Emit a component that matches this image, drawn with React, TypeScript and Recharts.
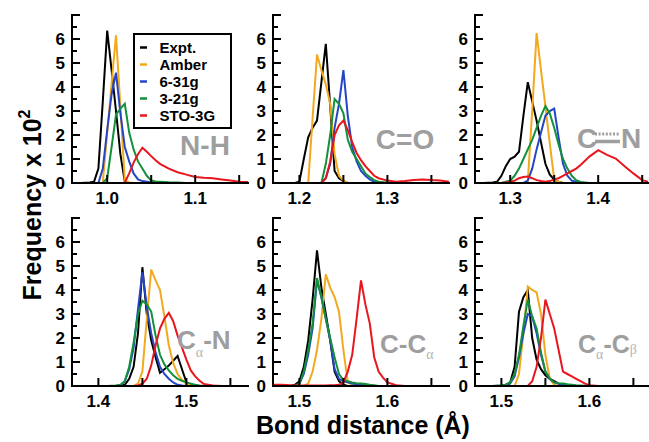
import React from 'react';
import { LineChart, Line, XAxis, YAxis } from 'recharts';

// ---------- data (frequency x 10^2 vs bond distance, Å) ----------
const seriesNames = ['Expt.', 'Amber', '6-31g', '3-21g', 'STO-3G'];
const seriesKeys = ['expt', 'amber', 'b631', 'b321', 'sto'];
const seriesColors = ['#000000', '#f2a91e', '#2545c8', '#13903a', '#e8161d'];
const yTicks = [0, 0.5, 1, 1.5, 2, 2.5, 3, 3.5, 4, 4.5, 5, 5.5, 6, 6.5, 7];

// N-H
const nhX = [0.96, 0.97, 0.98, 0.985, 0.99, 0.995, 1.0, 1.005, 1.01, 1.015, 1.02, 1.025, 1.03, 1.035, 1.04, 1.045, 1.05, 1.055, 1.06, 1.07, 1.08, 1.09, 1.1, 1.11, 1.12, 1.13, 1.14, 1.15, 1.16];
const nhExpt = [0, 0, 0.02, 0.05, 0.6, 3.4, 6.35, 4.7, 3.0, 1.2, 0.05, 0, 0, 0, 0, 0, 0, 0, 0, 0, 0, 0, 0, 0, 0, 0, 0, 0, 0];
const nhAmber = [null, null, null, null, null, 0.05, 2.1, 4.15, 6.15, 3.2, 0.1, 0.02, 0, null, null, null, null, null, null, null, null, null, null, null, null, null, null, null, null];
const nhB631 = [null, null, null, null, 0, 0.6, 2.2, 3.7, 4.6, 2.9, 1.5, 0.9, 0.4, 0.15, 0.08, 0.05, 0.02, 0, null, null, null, null, null, null, null, null, null, null, null];
const nhB321 = [null, null, null, null, null, 0, 0.2, 1.5, 2.85, 3.1, 3.3, 2.1, 1.4, 0.9, 0.6, 0.3, 0.1, 0.06, 0.05, 0.03, 0.02, 0, null, null, null, null, null, null, null];
const nhSto = [null, null, null, null, null, null, null, null, null, null, 0.02, 0.4, 0.85, 1.2, 1.47, 1.3, 1.12, 0.95, 0.8, 0.6, 0.45, 0.35, 0.25, 0.22, 0.2, 0.15, 0.1, 0.05, 0.04];
const nhTicks = [1.0, 1.05, 1.1, 1.15];

// C=O
const coX = [1.17, 1.18, 1.19, 1.195, 1.2, 1.205, 1.21, 1.215, 1.22, 1.225, 1.23, 1.235, 1.24, 1.245, 1.25, 1.255, 1.26, 1.265, 1.27, 1.275, 1.28, 1.285, 1.29, 1.3, 1.31, 1.32, 1.33, 1.34, 1.35, 1.36, 1.37];
const coExpt = [0, 0, 0, 0, 0.05, 1.0, 1.9, 2.3, 2.6, 4.2, 5.8, 3.2, 0.5, 0.2, 0.08, 0, null, null, null, null, null, null, null, null, null, null, null, null, null, null, null];
const coAmber = [null, null, null, null, null, null, 0, 2.7, 5.35, 4.7, 4.1, 3.3, 1.2, 0.3, 0.1, 0, null, null, null, null, null, null, null, null, null, null, null, null, null, null, null];
const coB631 = [null, null, null, null, null, null, null, null, null, 0, 0.2, 0.8, 2.3, 3.3, 4.7, 2.8, 1.5, 0.9, 0.5, 0.3, 0.15, 0.05, 0, null, null, null, null, null, null, null, null];
const coB321 = [null, null, null, null, null, null, null, null, null, 0, 0.8, 2.0, 3.5, 3.3, 2.9, 1.8, 1.3, 1.0, 0.7, 0.4, 0.25, 0.12, 0.05, 0.02, 0, null, null, null, null, null, null];
const coSto = [null, null, null, null, null, null, null, null, null, 0, 0.2, 0.9, 2.0, 2.4, 2.6, 2.2, 1.7, 1.25, 0.95, 0.7, 0.5, 0.3, 0.2, 0.1, 0.05, 0.08, 0.12, 0.15, 0.12, 0.1, 0.05];
const coTicks = [1.2, 1.25, 1.3, 1.35];

// C...N
const cnX = [1.26, 1.27, 1.28, 1.285, 1.29, 1.295, 1.3, 1.305, 1.31, 1.315, 1.32, 1.325, 1.33, 1.335, 1.34, 1.345, 1.35, 1.355, 1.36, 1.365, 1.37, 1.375, 1.38, 1.39, 1.4, 1.41, 1.42, 1.43, 1.44, 1.45, 1.46];
const cnExpt = [0, 0, 0.02, 0.05, 0.3, 0.7, 1.0, 1.1, 1.3, 2.8, 4.2, 3.4, 2.6, 1.7, 0.8, 0.35, 0.15, 0.05, 0, null, null, null, null, null, null, null, null, null, null, null, null];
const cnAmber = [null, null, null, null, null, null, null, null, null, null, 0.05, 3.0, 6.25, 4.7, 3.2, 1.65, 0.15, 0.05, 0, null, null, null, null, null, null, null, null, null, null, null, null];
const cnB631 = [null, null, null, null, null, null, null, null, null, 0, 0.1, 0.6, 1.4, 2.1, 2.8, 3.0, 3.1, 1.9, 0.8, 0.3, 0.1, 0.05, 0, null, null, null, null, null, null, null, null];
const cnB321 = [null, null, null, null, 0, 0.05, 0.1, 0.3, 0.6, 1.0, 1.4, 1.8, 2.3, 2.8, 3.2, 2.9, 2.3, 1.6, 1.0, 0.6, 0.3, 0.12, 0.04, 0, null, null, null, null, null, null, null];
const cnSto = [null, null, null, null, 0, 0.02, 0.05, 0.1, 0.2, 0.25, 0.27, 0.2, 0.12, 0.08, 0.05, 0.08, 0.15, 0.2, 0.3, 0.4, 0.5, 0.6, 0.75, 1.1, 1.37, 1.17, 1.02, 0.7, 0.4, 0.12, 0.02];
const cnTicks = [1.3, 1.35, 1.4, 1.45];

// Calpha-N
const canX = [1.37, 1.38, 1.39, 1.4, 1.41, 1.42, 1.425, 1.43, 1.435, 1.44, 1.445, 1.45, 1.455, 1.46, 1.465, 1.47, 1.475, 1.48, 1.485, 1.49, 1.495, 1.5, 1.505, 1.51, 1.515, 1.52, 1.53, 1.54, 1.55, 1.56, 1.57];
const canExpt = [0, 0, 0, 0, 0, 0, 0.02, 0.05, 0.3, 0.8, 2.2, 4.95, 3.0, 1.9, 1.2, 0.55, 0.7, 0.85, 1.05, 1.25, 0.7, 0.15, 0.05, 0, null, null, null, null, null, null, null];
const canAmber = [null, null, null, null, null, null, null, null, null, 0, 0.1, 0.6, 2.8, 4.85, 4.4, 4.0, 2.9, 1.7, 0.95, 0.5, 0.25, 0.1, 0.03, 0, null, null, null, null, null, null, null];
const canB631 = [null, null, null, null, null, 0, 0.02, 0.2, 0.7, 1.6, 3.2, 4.75, 3.3, 2.2, 1.4, 0.8, 0.5, 0.3, 0.15, 0.05, 0.02, 0, null, null, null, null, null, null, null, null, null];
const canB321 = [null, null, null, null, 0, 0.02, 0.05, 0.2, 0.8, 1.8, 3.0, 3.55, 3.4, 3.1, 2.1, 1.3, 0.9, 0.65, 0.45, 0.3, 0.22, 0.15, 0.1, 0.05, 0.02, 0, null, null, null, null, null];
const canSto = [null, null, null, null, null, null, null, null, null, 0, 0.02, 0.1, 0.3, 0.85, 1.7, 2.4, 2.8, 3.05, 2.7, 2.1, 1.6, 1.1, 0.65, 0.4, 0.22, 0.08, 0.02, 0, null, null, null];
const canTicks = [1.4, 1.45, 1.5, 1.55];

// C-Calpha
const ccaX = [1.47, 1.48, 1.49, 1.495, 1.5, 1.505, 1.51, 1.515, 1.52, 1.525, 1.53, 1.535, 1.54, 1.545, 1.55, 1.555, 1.56, 1.565, 1.57, 1.575, 1.58, 1.585, 1.59, 1.595, 1.6, 1.61, 1.62, 1.63, 1.64, 1.65, 1.66, 1.67];
const ccaExpt = [0, 0, 0, 0.05, 0.2, 0.8, 1.9, 3.6, 5.65, 4.1, 3.0, 1.9, 0.6, 0.2, 0.05, 0, null, null, null, null, null, null, null, null, null, null, null, null, null, null, null, null];
const ccaAmber = [null, null, null, null, null, 0, 0.1, 0.6, 1.5, 2.8, 4.65, 4.1, 3.7, 3.1, 1.5, 0.15, 0.05, 0, null, null, null, null, null, null, null, null, null, null, null, null, null, null];
const ccaB631 = [null, null, null, 0, 0.1, 0.5, 1.3, 2.4, 4.4, 3.7, 2.8, 1.9, 0.7, 0.3, 0.2, 0.15, 0.1, 0.07, 0.05, 0.03, 0, null, null, null, null, null, null, null, null, null, null, null];
const ccaB321 = [null, null, null, 0, 0.1, 0.6, 1.5, 2.6, 4.5, 3.7, 2.8, 2.0, 1.2, 0.5, 0.25, 0.2, 0.15, 0.12, 0.1, 0.08, 0.05, 0.03, 0, null, null, null, null, null, null, null, null, null];
const ccaSto = [0.05, 0.05, 0.03, 0.02, 0.02, 0.02, 0.02, 0.02, 0.02, 0.02, 0.02, 0.03, 0.03, 0.05, 0.15, 0.6, 1.3, 2.8, 4.4, 3.4, 2.6, 1.2, 0.6, 0.35, 0.15, 0.03, 0, null, null, null, null, null];
const ccaTicks = [1.5, 1.55, 1.6, 1.65];

// Calpha-Cbeta
const cabX = [1.47, 1.48, 1.49, 1.495, 1.5, 1.505, 1.51, 1.515, 1.52, 1.525, 1.53, 1.535, 1.54, 1.545, 1.55, 1.555, 1.56, 1.565, 1.57, 1.575, 1.58, 1.585, 1.59, 1.595, 1.6, 1.61, 1.62, 1.63, 1.64, 1.65, 1.66, 1.67];
const cabExpt = [0, 0, 0, 0, 0, 0.05, 0.15, 0.8, 3.1, 3.7, 4.0, 2.0, 1.1, 0.7, 0.45, 0.3, 0.2, 0.1, 0.05, 0.02, 0, null, null, null, null, null, null, null, null, null, null, null];
const cabAmber = [null, null, null, null, null, null, null, 0, 0.5, 2.2, 4.15, 4.0, 3.9, 3.0, 1.3, 0.3, 0.05, 0, null, null, null, null, null, null, null, null, null, null, null, null, null, null];
const cabB631 = [null, null, null, null, null, 0, 0.1, 0.4, 1.2, 2.2, 3.0, 2.9, 2.2, 1.3, 0.6, 0.3, 0.15, 0.1, 0.05, 0.02, 0, null, null, null, null, null, null, null, null, null, null, null];
const cabB321 = [null, null, 0, 0.02, 0.02, 0.05, 0.15, 0.5, 1.3, 2.5, 3.6, 2.9, 2.4, 1.4, 0.6, 0.3, 0.15, 0.12, 0.1, 0.07, 0.05, 0.03, 0.02, 0.01, 0, null, null, null, null, null, null, null];
const cabSto = [null, null, null, null, null, null, null, null, null, null, 0, 0.2, 0.8, 2.0, 3.6, 3.0, 2.4, 1.5, 0.6, 0.5, 0.4, 0.3, 0.2, 0.1, 0.03, 0, null, null, null, null, null, null];
const cabTicks = [1.5, 1.55, 1.6, 1.65];

// ---------- styling / layout ----------
const FONT = '"Liberation Sans", Arial, Helvetica, sans-serif';
const SERIF = '"Liberation Serif", serif';
const PLOT_H = 168;
const AX = { stroke: '#000', strokeWidth: 2, strokeLinecap: 'square' as const };

type Panel = {
  x: number[];
  s: (number | null)[][];
  domain: [number, number];
  ticks: number[];
  left: number;
  top: number;
  w: number;
};

const panels: Panel[] = [
  { x: nhX, s: [nhExpt, nhAmber, nhB631, nhB321, nhSto], domain: [0.96, 1.16], ticks: nhTicks, left: 72, top: 15, w: 176 },
  { x: coX, s: [coExpt, coAmber, coB631, coB321, coSto], domain: [1.17, 1.37], ticks: coTicks, left: 273, top: 15, w: 176 },
  { x: cnX, s: [cnExpt, cnAmber, cnB631, cnB321, cnSto], domain: [1.26, 1.4566], ticks: cnTicks, left: 475, top: 15, w: 173 },
  { x: canX, s: [canExpt, canAmber, canB631, canB321, canSto], domain: [1.37, 1.57], ticks: canTicks, left: 72, top: 217.5, w: 176 },
  { x: ccaX, s: [ccaExpt, ccaAmber, ccaB631, ccaB321, ccaSto], domain: [1.47, 1.67], ticks: ccaTicks, left: 273, top: 217.5, w: 176 },
  { x: cabX, s: [cabExpt, cabAmber, cabB631, cabB321, cabSto], domain: [1.47, 1.6666], ticks: cabTicks, left: 475, top: 217.5, w: 173 },
];

const isMajorX = (v: number) => Math.abs(v * 10 - Math.round(v * 10)) < 1e-6;
const isMajorY = (v: number) => Math.abs(v - Math.round(v)) < 1e-6;

const BottomTick = (props: any) => {
  const { x, y, payload } = props;
  const v = payload.value as number;
  return (
    <g>
      <line x1={x} x2={x} y1={y} y2={y - 8} stroke="#000" strokeWidth={2} />
      {isMajorX(v) && (
        <text x={x} y={y + 21} textAnchor="middle" fontFamily={FONT} fontWeight="bold" fontSize={17} fill="#000">
          {v.toFixed(1)}
        </text>
      )}
    </g>
  );
};

const TopTick = (props: any) => {
  const { x, y } = props;
  return <line x1={x} x2={x} y1={y} y2={y + 8} stroke="#000" strokeWidth={2} />;
};

const LeftTick = (props: any) => {
  const { x, y, payload } = props;
  const v = payload.value as number;
  const major = isMajorY(v);
  return (
    <g>
      <line x1={x} x2={x + (major ? 8 : 5)} y1={y} y2={y} stroke="#000" strokeWidth={2} />
      {major && v <= 6 && (
        <text x={x - 7} y={y + 6} textAnchor="end" fontFamily={FONT} fontWeight="bold" fontSize={17} fill="#000">
          {String(v)}
        </text>
      )}
    </g>
  );
};

const RightTick = (props: any) => {
  const { x, y, payload } = props;
  const v = payload.value as number;
  const major = isMajorY(v);
  return <line x1={x} x2={x - (major ? 8 : 5)} y1={y} y2={y} stroke="#000" strokeWidth={2} />;
};

function PanelChart({ p }: { p: Panel }) {
  const rows = p.x.map((xv, i) => {
    const r: any = { x: xv };
    seriesKeys.forEach((k, j) => {
      r[k] = p.s[j][i];
    });
    return r;
  });
  return (
    <div style={{ position: 'absolute', left: p.left - 30, top: p.top - 5 }}>
      <LineChart width={p.w + 35} height={PLOT_H + 35} data={rows} margin={{ top: 5, right: 5, bottom: 0, left: 0 }}>
        <XAxis xAxisId="b" dataKey="x" type="number" domain={p.domain} allowDataOverflow ticks={p.ticks} interval={0}
          height={30} tickSize={0} tickMargin={0} tickLine={false} axisLine={AX} tick={(t: any) => <BottomTick {...t} />} />
        <XAxis xAxisId="t" orientation="top" dataKey="x" type="number" domain={p.domain} allowDataOverflow ticks={p.ticks} interval={0}
          height={0} tickSize={0} tickMargin={0} tickLine={false} axisLine={AX} tick={(t: any) => <TopTick {...t} />} />
        <YAxis yAxisId="l" type="number" domain={[0, 7]} allowDataOverflow ticks={yTicks} interval={0}
          width={30} tickSize={0} tickMargin={0} tickLine={false} axisLine={AX} tick={(t: any) => <LeftTick {...t} />} />
        <YAxis yAxisId="r" orientation="right" type="number" domain={[0, 7]} allowDataOverflow ticks={yTicks} interval={0}
          width={0} tickSize={0} tickMargin={0} tickLine={false} axisLine={AX} tick={(t: any) => <RightTick {...t} />} />
        {seriesKeys.map((k, i) => (
          <Line key={k} xAxisId="b" yAxisId="l" type="linear" dataKey={k} stroke={seriesColors[i]} strokeWidth={2}
            dot={false} activeDot={false} isAnimationActive={false} connectNulls={false} />
        ))}
      </LineChart>
    </div>
  );
}

const GRAY = '#9e9e9e';
const SUB = '#b4b4b4';

export default function App() {
  return (
    <div style={{ position: 'absolute', left: 0, top: 0, width: 649, height: 442, overflow: 'hidden', background: '#fff' }}>
      {panels.map((p, i) => (
        <PanelChart key={i} p={p} />
      ))}
      <svg width={649} height={442} style={{ position: 'absolute', left: 0, top: 0, pointerEvents: 'none' }}>
        {/* legend */}
        <rect x={134} y={34} width={97} height={94} fill="none" stroke="#000" strokeWidth={2} />
        {seriesNames.map((n, i) => {
          const cy = 47.5 + 17 * i;
          return (
            <g key={n}>
              <line x1={140} x2={147} y1={cy} y2={cy} stroke={seriesColors[i]} strokeWidth={2.5} />
              <text x={159.5} y={cy + 5.5} fontFamily={FONT} fontWeight="bold" fontSize={15} fill="#000">{n}</text>
            </g>
          );
        })}
        {/* panel labels */}
        <text x={205} y={155} textAnchor="middle" fontFamily={FONT} fontWeight="bold" fontSize={28} fill={GRAY}>N-H</text>
        <text x={405} y={149} textAnchor="middle" fontFamily={FONT} fontWeight="bold" fontSize={28} fill={GRAY}>C=O</text>
        <text x={577} y={148} fontFamily={FONT} fontWeight="bold" fontSize={28} fill={GRAY}>C</text>
        <line x1={595} x2={620} y1={134} y2={134} stroke={GRAY} strokeWidth={3} strokeDasharray="2 1.6" />
        <line x1={595} x2={620} y1={141.5} y2={141.5} stroke={GRAY} strokeWidth={3.5} />
        <text x={621} y={148} fontFamily={FONT} fontWeight="bold" fontSize={28} fill={GRAY}>N</text>
        <text x={177} y={349} fontFamily={FONT} fontWeight="bold" fontSize={26} fill={GRAY}>
          C<tspan dy={8} fontFamily={SERIF} fontWeight="normal" fontSize={14} fill={SUB}>α</tspan>
          <tspan dy={-8}>-N</tspan>
        </text>
        <text x={380} y={353} fontFamily={FONT} fontWeight="bold" fontSize={26} fill={GRAY}>
          C-C<tspan dy={6} fontFamily={SERIF} fontWeight="normal" fontSize={14} fill={SUB}>α</tspan>
        </text>
        <text x={578} y={353} fontFamily={FONT} fontWeight="bold" fontSize={25} fill={GRAY}>
          C<tspan dy={6} fontFamily={SERIF} fontWeight="normal" fontSize={14} fill={SUB}>α</tspan>
          <tspan dy={-6}>-C</tspan>
          <tspan dy={1} fontFamily={SERIF} fontWeight="normal" fontSize={14} fill={SUB}>β</tspan>
        </text>
        {/* axis titles */}
        <text x={363} y={434} textAnchor="middle" fontFamily={FONT} fontWeight="bold" fontSize={25} fill="#000">Bond distance (Å)</text>
        <text transform="translate(41,205) rotate(-90)" textAnchor="middle" fontFamily={FONT} fontWeight="bold" fontSize={25} fill="#000">
          Frequency x 10<tspan dy={-11} fontSize={16}>2</tspan>
        </text>
      </svg>
    </div>
  );
}
